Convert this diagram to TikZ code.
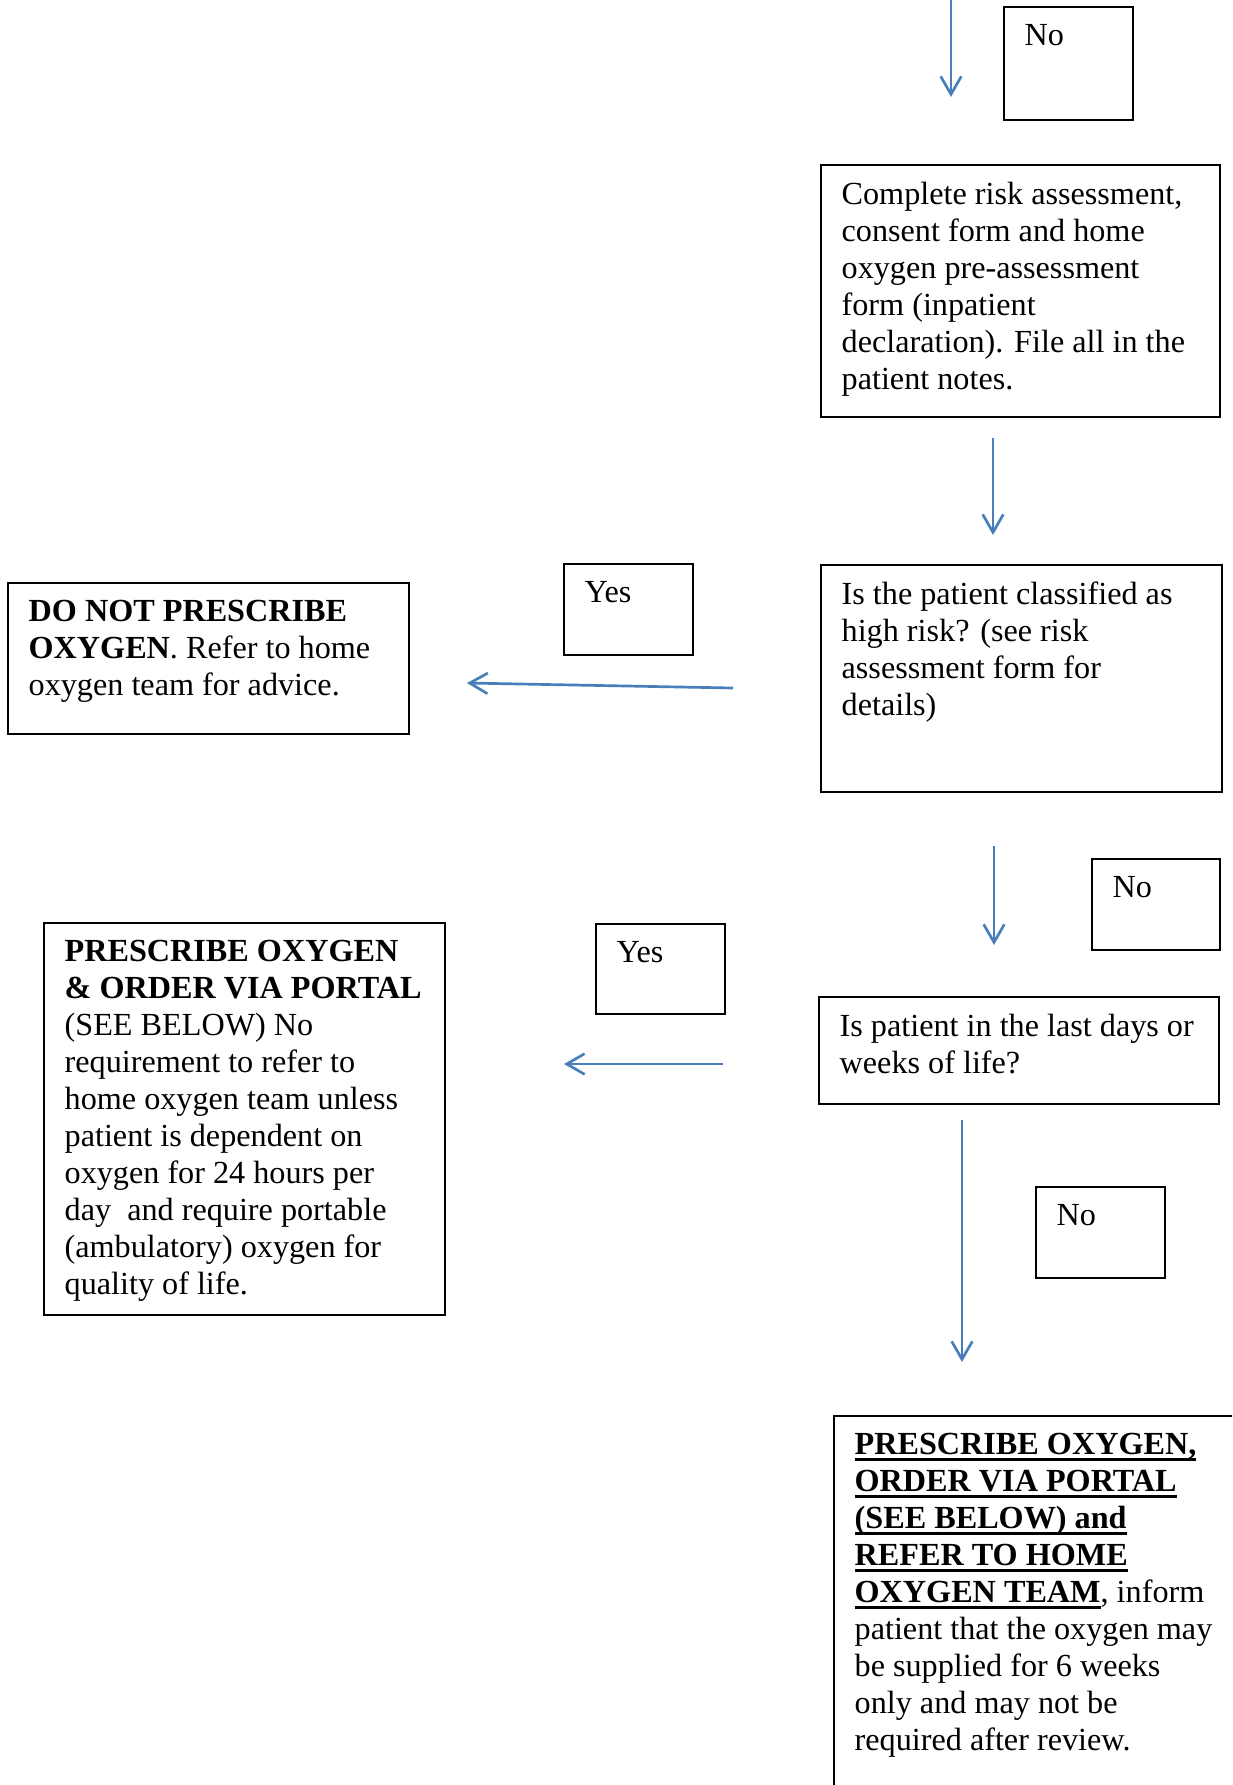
\documentclass[tikz,border=0pt]{standalone}
\usepackage{fontspec}
\setmainfont{Liberation Serif}
\usetikzlibrary{arrows.meta}

\newlength{\pxu}
\setlength{\pxu}{0.3727pt}
\definecolor{arrowblue}{RGB}{74,126,187}
% box of given width/height (in px), text set from the top
\newcommand{\boxtext}[3]{\parbox[c][\dimexpr#2\pxu-12.6pt\relax][t]{\dimexpr#1\pxu-15.4pt\relax}{\raggedright#3}}
% thick underline
\newsavebox{\undlbox}
\newcommand{\undl}[1]{\sbox{\undlbox}{#1}\rlap{\rule[-2.4pt]{\wd\undlbox}{1pt}}\usebox{\undlbox}}

\begin{document}
\begin{tikzpicture}[
    x=0.3727pt, y=-0.3727pt,
    font=\fontsize{12}{13.8}\selectfont,
    flowbox/.style={draw, line width=0.75pt, anchor=north west, inner xsep=7.7pt, inner ysep=6.3pt},
    flow/.style={-{Straight Barb[length=6.7pt,width=7.7pt]}, line width=1pt, draw=arrowblue}
]
\useasboundingbox (0,0) rectangle (1232,1785);
\clip (0,0) rectangle (1232,1785);

% Right-hand column
\node[flowbox] (noA) at (1003,6) {\boxtext{129}{113}{No}};
\node[flowbox] (assess) at (820,164) {\boxtext{399}{252}{Complete risk assessment,\\ consent form and home\\ oxygen pre-assessment\\ form (inpatient\\ declaration). File all in the\\ patient notes.}};
\node[flowbox] (highrisk) at (820,564) {\boxtext{401}{227}{Is the patient classified as\\ high risk? (see risk\\ assessment form for\\ details)}};
\node[flowbox] (noB) at (1091,858) {\boxtext{128}{91}{No}};
\node[flowbox] (lastdays) at (818,996) {\boxtext{400}{107}{Is patient in the last days or\\ weeks of life?}};
\node[flowbox] (noC) at (1035,1186) {\boxtext{129}{91}{No}};
\node[flowbox] (refer) at (833,1415) {\boxtext{407}{380}{\textbf{\undl{PRESCRIBE OXYGEN,}}\\ \textbf{\undl{ORDER VIA PORTAL}}\\ \textbf{\undl{(SEE BELOW) and}}\\ \textbf{\undl{REFER TO HOME}}\\ \textbf{\undl{OXYGEN TEAM}}, inform\\ patient that the oxygen may\\ be supplied for 6 weeks\\ only and may not be\\ required after review.}};

% Yes branches
\node[flowbox] (yesA) at (563,563) {\boxtext{129}{91}{Yes}};
\node[flowbox] (refuse) at (7,582) {\boxtext{401}{151}{\textbf{DO NOT PRESCRIBE}\\ \textbf{OXYGEN}. Refer to home\\ oxygen team for advice.}};
\node[flowbox] (yesB) at (595,923) {\boxtext{129}{90}{Yes}};
\node[flowbox] (prescribe) at (43,922) {\boxtext{401}{392}{\textbf{PRESCRIBE OXYGEN}\\ \textbf{\& ORDER VIA PORTAL}\\ (SEE BELOW) No\\ requirement to refer to\\ home oxygen team unless\\ patient is dependent on\\ oxygen for 24 hours per\\ day~ and require portable\\ (ambulatory) oxygen for\\ quality of life.}};

% Arrow ends
\coordinate (inTop) at (951,-5);
\coordinate (inEnd) at (951,97);
\coordinate (assessOut) at (993,438);
\coordinate (riskIn) at (993,535);
\coordinate (riskYes) at (733,688);
\coordinate (refuseIn) at (467,683);
\coordinate (riskNo) at (994,846);
\coordinate (lastIn) at (994,945);
\coordinate (lastYes) at (723,1064);
\coordinate (prescribeIn) at (564,1064);
\coordinate (lastNo) at (962,1120);
\coordinate (referIn) at (962,1362);

% Connectors
\draw[flow] (inTop) -- (inEnd);
\draw[flow] (assessOut) -- (riskIn);
\draw[flow] (riskYes) -- (refuseIn);
\draw[flow] (riskNo) -- (lastIn);
\draw[flow] (lastYes) -- (prescribeIn);
\draw[flow] (lastNo) -- (referIn);

\end{tikzpicture}
\end{document}
